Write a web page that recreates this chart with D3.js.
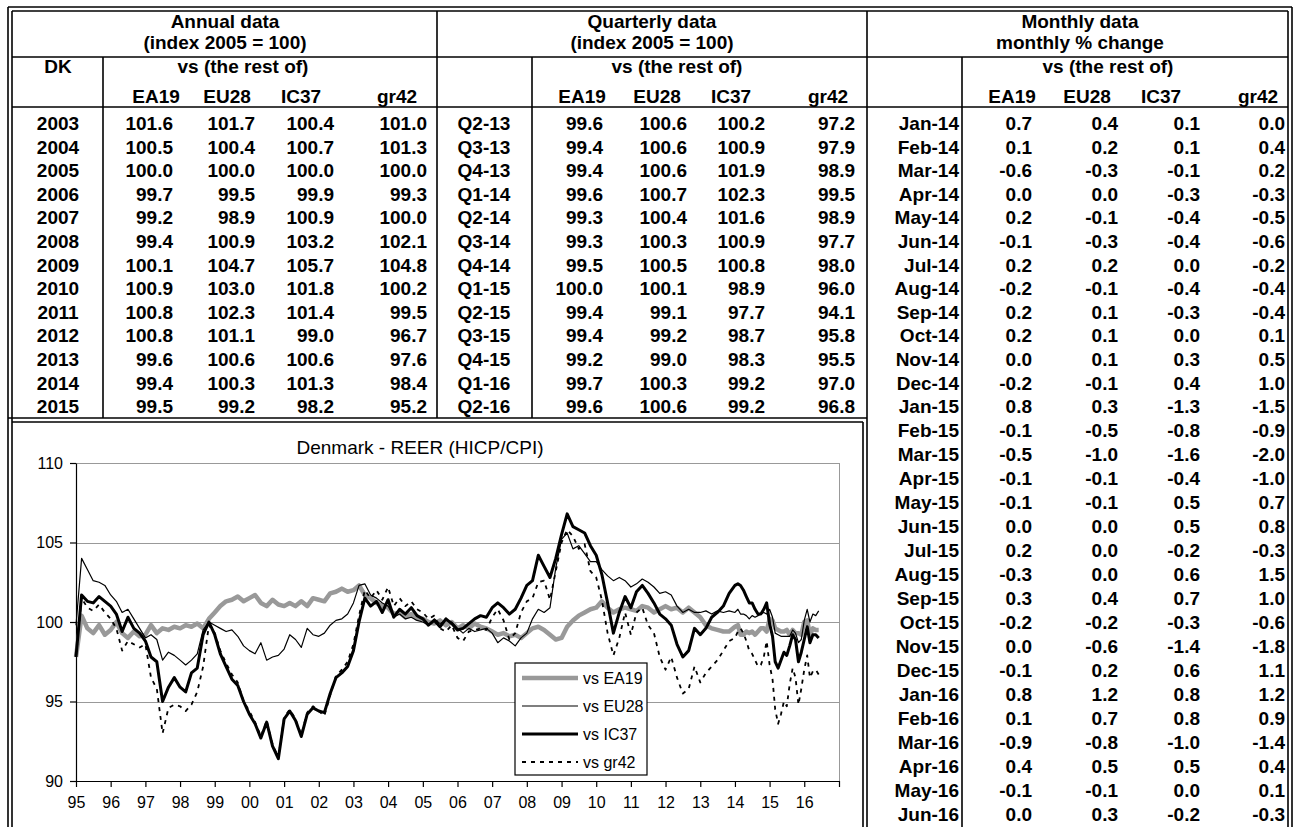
<!DOCTYPE html>
<head>
<meta charset="utf-8">
<style>
body { margin: 0; background: #fff; }
svg { display: block; font-family: Arial, "Liberation Sans", sans-serif; }
.cell { font-size: 19px; font-weight: bold; fill: #000; }
.rule { stroke: #000; stroke-width: 1.6px; fill: none; }
.chart text { font-size: 16px; fill: #000; }
.chart .title { font-size: 19px; }
.grid { stroke: #999; stroke-width: 1px; shape-rendering: crispEdges; }
.axis path, .axis line { stroke: #000; stroke-width: 1.2px; }
.series { fill: none; stroke-linejoin: round; }
</style>
<script src="https://d3js.org/d3.v7.min.js"></script>
</head>
<body>
<svg id="sheet" width="1303" height="827"></svg>
<script>

// ---- table data ----
var annualYears = ["2003","2004","2005","2006","2007","2008","2009","2010","2011","2012","2013","2014","2015"];
var annEA19 = [101.6,100.5,100.0,99.7,99.2,99.4,100.1,100.9,100.8,100.8,99.6,99.4,99.5];
var annEU28 = [101.7,100.4,100.0,99.5,98.9,100.9,104.7,103.0,102.3,101.1,100.6,100.3,99.2];
var annIC37 = [100.4,100.7,100.0,99.9,100.9,103.2,105.7,101.8,101.4,99.0,100.6,101.3,98.2];
var annGr42 = [101.0,101.3,100.0,99.3,100.0,102.1,104.8,100.2,99.5,96.7,97.6,98.4,95.2];

var quarterLabels = ["Q2-13","Q3-13","Q4-13","Q1-14","Q2-14","Q3-14","Q4-14","Q1-15","Q2-15","Q3-15","Q4-15","Q1-16","Q2-16"];
var qEA19 = [99.6,99.4,99.4,99.6,99.3,99.3,99.5,100.0,99.4,99.4,99.2,99.7,99.6];
var qEU28 = [100.6,100.6,100.6,100.7,100.4,100.3,100.5,100.1,99.1,99.2,99.0,100.3,100.6];
var qIC37 = [100.2,100.9,101.9,102.3,101.6,100.9,100.8,98.9,97.7,98.7,98.3,99.2,99.2];
var qGr42 = [97.2,97.9,98.9,99.5,98.9,97.7,98.0,96.0,94.1,95.8,95.5,97.0,96.8];

var monthLabels = ["Jan-14","Feb-14","Mar-14","Apr-14","May-14","Jun-14","Jul-14","Aug-14","Sep-14","Oct-14","Nov-14","Dec-14",
  "Jan-15","Feb-15","Mar-15","Apr-15","May-15","Jun-15","Jul-15","Aug-15","Sep-15","Oct-15","Nov-15","Dec-15",
  "Jan-16","Feb-16","Mar-16","Apr-16","May-16","Jun-16"];
var mEA19 = [0.7,0.1,-0.6,0.0,0.2,-0.1,0.2,-0.2,0.2,0.2,0.0,-0.2,0.8,-0.1,-0.5,-0.1,-0.1,0.0,0.2,-0.3,0.3,-0.2,0.0,-0.1,0.8,0.1,-0.9,0.4,-0.1,0.0];
var mEU28 = [0.4,0.2,-0.3,0.0,-0.1,-0.3,0.2,-0.1,0.1,0.1,0.1,-0.1,0.3,-0.5,-1.0,-0.1,-0.1,0.0,0.0,0.0,0.4,-0.2,-0.6,0.2,1.2,0.7,-0.8,0.5,-0.1,0.3];
var mIC37 = [0.1,0.1,-0.1,-0.3,-0.4,-0.4,0.0,-0.4,-0.3,0.0,0.3,0.4,-1.3,-0.8,-1.6,-0.4,0.5,0.5,-0.2,0.6,0.7,-0.3,-1.4,0.6,0.8,0.8,-1.0,0.5,0.0,-0.2];
var mGr42 = [0.0,0.4,0.2,-0.3,-0.5,-0.6,-0.2,-0.4,-0.4,0.1,0.5,1.0,-1.5,-0.9,-2.0,-1.0,0.7,0.8,-0.3,1.5,1.0,-0.6,-1.8,1.1,1.2,0.9,-1.4,0.4,0.1,-0.3];

var columnNames = ["EA19","EU28","IC37","gr42"];

// ---- chart data (every 2nd month to 2013, monthly after) ----
var chartMonths = [
  "1995-01","1995-03","1995-05","1995-07","1995-09","1995-11",
  "1996-01","1996-03","1996-05","1996-07","1996-09","1996-11",
  "1997-01","1997-03","1997-05","1997-07","1997-09","1997-11",
  "1998-01","1998-03","1998-05","1998-07","1998-09","1998-11",
  "1999-01","1999-03","1999-05","1999-07","1999-09","1999-11",
  "2000-01","2000-03","2000-05","2000-07","2000-09","2000-11",
  "2001-01","2001-03","2001-05","2001-07","2001-09","2001-11",
  "2002-01","2002-03","2002-05","2002-07","2002-09","2002-11",
  "2003-01","2003-03","2003-05","2003-07","2003-09","2003-11",
  "2004-01","2004-03","2004-05","2004-07","2004-09","2004-11",
  "2005-01","2005-03","2005-05","2005-07","2005-09","2005-11",
  "2006-01","2006-03","2006-05","2006-07","2006-09","2006-11",
  "2007-01","2007-03","2007-05","2007-07","2007-09","2007-11",
  "2008-01","2008-03","2008-05","2008-07","2008-09","2008-11",
  "2009-01","2009-03","2009-05","2009-07","2009-09","2009-11",
  "2010-01","2010-03","2010-05","2010-07","2010-09","2010-11",
  "2011-01","2011-03","2011-05","2011-07","2011-09","2011-11",
  "2012-01","2012-03","2012-05","2012-07","2012-09","2012-11",
  "2013-01","2013-03","2013-05","2013-07","2013-09","2013-11",
  "2014-01","2014-02","2014-03","2014-04","2014-05","2014-06","2014-07","2014-08","2014-09","2014-10","2014-11","2014-12",
  "2015-01","2015-02","2015-03","2015-04","2015-05","2015-06","2015-07","2015-08","2015-09","2015-10","2015-11","2015-12",
  "2016-01","2016-02","2016-03","2016-04","2016-05","2016-06"
];
var chartEA19 = [
  97.8,100.4,99.6,99.3,99.8,99.2, 99.5,100.0,99.3,99.0,99.4,99.1, 99.2,99.8,99.3,99.6,99.5,99.7,
  99.6,99.8,99.7,99.9,99.6,100.2, 100.6,101.0,101.3,101.4,101.6,101.3, 101.5,101.7,101.2,101.0,101.4,101.1,
  101.0,101.2,101.0,101.3,101.0,101.5, 101.4,101.3,101.8,101.9,102.1,101.9, 102.0,102.3,101.7,101.5,101.2,101.0,
  100.9,100.5,100.6,100.3,100.5,100.2, 100.2,100.0,99.9,100.1,99.8,100.0, 99.6,99.8,99.6,99.9,99.7,99.6,
  99.4,99.2,99.3,99.1,99.2,99.0, 99.3,99.6,99.7,99.5,99.2,98.9, 99.0,99.7,100.1,100.4,100.6,100.8,
  100.9,101.3,100.9,100.6,100.8,100.9, 100.8,100.7,101.0,100.9,100.6,100.8, 101.0,100.8,100.9,100.6,100.9,100.6,
  100.3,99.8,99.6,99.5,99.4,99.4,
  99.7,99.8,99.2,99.2,99.4,99.3,99.4,99.2,99.4,99.6,99.6,99.4,
  100.2,100.1,99.6,99.5,99.4,99.4,99.5,99.2,99.5,99.3,99.3,99.2,
  100.0,100.1,99.2,99.6,99.5,99.5
];
var chartEU28 = [
  99.8,104.0,103.3,102.6,102.5,102.3, 101.7,101.3,100.6,100.8,100.2,99.6, 99.0,99.2,98.9,97.6,98.1,97.9,
  97.6,97.3,97.6,98.0,99.5,100.0, 99.8,99.6,99.4,99.5,99.1,98.5, 98.2,98.0,98.7,97.6,97.8,97.9,
  98.3,99.2,98.9,98.4,99.6,99.2, 99.1,99.3,99.8,100.1,100.2,100.5, 101.2,102.3,102.4,101.7,101.5,101.2,
  101.0,100.3,100.5,100.2,100.3,100.1, 100.0,99.8,100.2,99.9,100.1,100.0, 99.6,99.3,99.6,99.4,99.5,99.6,
  99.3,98.7,99.0,98.8,98.5,99.0, 99.3,100.2,100.8,100.6,100.9,103.4, 105.2,105.6,104.6,104.8,104.3,103.8,
  103.8,103.3,102.9,102.6,102.8,102.6, 102.2,102.4,102.7,102.5,102.2,101.8, 101.9,101.7,101.0,100.6,100.8,100.6,
  100.6,100.7,100.5,100.7,100.6,100.7,
  100.6,100.8,100.5,100.5,100.4,100.2,100.4,100.3,100.4,100.5,100.6,100.5,
  100.8,100.3,99.3,99.2,99.1,99.1,99.1,99.1,99.5,99.3,98.7,98.9,
  100.1,100.8,100.0,100.5,100.4,100.7
];
var chartIC37 = [
  97.8,101.7,101.3,101.2,101.6,101.3, 101.0,100.5,99.4,100.3,99.6,99.3, 98.8,97.8,97.5,95.0,95.9,96.5,
  95.9,95.6,96.8,97.1,99.2,100.0, 99.2,98.0,97.2,96.4,96.0,95.0, 94.2,93.6,92.7,93.7,92.2,91.4,
  93.9,94.4,93.8,92.8,94.2,94.6, 94.4,94.3,95.5,96.5,96.8,97.2, 98.2,100.0,101.5,101.0,101.3,100.6,
  101.4,100.3,100.8,100.5,100.9,100.4, 100.2,99.8,100.1,99.7,100.2,99.9, 99.5,99.6,99.9,100.2,100.4,100.3,
  100.9,101.2,100.9,100.5,100.8,101.5, 102.3,102.6,104.2,103.5,102.8,104.0, 105.5,106.8,106.0,105.8,105.6,104.8,
  104.2,103.0,101.2,99.3,100.6,101.6, 100.9,101.9,102.3,101.8,101.2,100.5, 100.2,99.8,98.6,97.8,98.2,99.6,
  99.2,99.6,100.3,100.6,101.0,101.8,
  102.3,102.4,102.3,102.0,101.6,101.2,101.2,100.8,100.5,100.5,100.8,101.2,
  99.9,99.1,97.5,97.1,97.6,98.1,97.9,98.5,99.2,98.9,97.5,98.1,
  98.9,99.7,98.7,99.2,99.2,99.0
];
var chartGr42 = [
  97.8,101.5,100.9,100.7,101.1,100.6, 100.2,99.6,98.2,98.8,98.6,98.4, 98.6,96.5,95.8,93.0,94.6,94.8,
  94.7,94.4,94.8,95.6,97.2,99.8, 99.3,98.2,97.4,96.7,96.2,95.0, 94.4,93.7,92.8,93.8,92.3,91.5,
  94.0,94.5,93.9,92.9,94.3,94.7, 94.4,94.1,95.4,96.6,97.0,97.5, 98.6,100.4,102.0,101.5,102.0,101.4,
  102.2,101.0,101.5,101.0,101.3,100.8, 100.6,100.2,100.4,99.6,99.4,99.8, 99.0,98.8,99.4,99.5,99.6,99.5,
  100.3,100.8,100.1,98.9,99.3,100.6, 101.3,101.5,102.5,102.6,101.4,103.2, 105.0,105.8,105.4,104.6,104.9,103.2,
  102.8,101.4,99.3,97.9,99.0,100.6, 99.2,100.6,100.9,99.8,99.3,97.8, 97.0,97.8,96.5,95.5,95.8,97.2,
  96.2,96.8,97.2,97.6,98.2,98.8,
  99.0,99.4,99.6,99.3,98.8,98.2,98.0,97.6,97.2,97.3,97.8,98.8,
  97.3,96.4,94.5,93.6,94.2,95.0,94.7,96.1,97.1,96.5,94.8,95.8,
  97.0,97.9,96.5,96.9,97.0,96.7
];
var yTicks = [90, 95, 100, 105, 110];
var xTickYears = [1995,1996,1997,1998,1999,2000,2001,2002,2003,2004,2005,2006,2007,2008,2009,2010,2011,2012,2013,2014,2015,2016,2017];
var xTickLabels = ["95","96","97","98","99","00","01","02","03","04","05","06","07","08","09","10","11","12","13","14","15","16",""];
var legendNames = ["vs EA19","vs EU28","vs IC37","vs gr42"];

var svg = d3.select("#sheet");

/**
 * Put one bold table cell text.
 */
function cell(x, y, str, anchor) {
  svg.append("text").attr("class", "cell")
    .attr("x", x).attr("y", y)
    .attr("text-anchor", anchor || "middle")
    .text(str);
}

function rule(x1, y1, x2, y2) {
  svg.append("line").attr("class", "rule")
    .attr("x1", x1).attr("y1", y1).attr("x2", x2).attr("y2", y2);
}

/**
 * Draw the grid lines of the sheet.
 */
function drawRules() {
  // outer double border
  rule(8, 7, 1292, 7);
  rule(12, 11, 1288, 11);
  rule(8, 7, 8, 827);
  rule(12, 11, 12, 827);
  rule(1292, 7, 1292, 827);
  rule(1288, 11, 1288, 827);
  // header lines
  rule(12, 57, 1288, 57);
  rule(12, 107, 1288, 107);
  // section dividers
  rule(437, 11, 437, 418);
  rule(867, 11, 867, 827);
  rule(103, 57, 103, 418);
  rule(532, 57, 532, 418);
  rule(962, 57, 962, 827);
  // chart box double line
  rule(8, 418, 867, 418);
  rule(12, 422, 863, 422);
  rule(863, 422, 863, 827);
}

// rows above the chart are a little lower than the rows beside it
function rowY(i) {
  return i <= 12 ? 130 + i * 23.6 : 413 + (i - 12) * 24.0;
}

function fmt(v) { return v.toFixed(1); }

function drawSection(labels, cols, labelX, labelAnchor, valueX) {
  labels.forEach(function(lab, i) {
    var yy = rowY(i);
    cell(labelX, yy, lab, labelAnchor);
    cols.forEach(function(col, j) {
      cell(valueX[j], yy, fmt(col[i]), "end");
    });
  });
}

/**
 * Draw the three tables.
 */
function drawTables() {
  cell(225, 28, "Annual data");
  cell(225, 49, "(index 2005 = 100)");
  cell(652, 28, "Quarterly data");
  cell(652, 49, "(index 2005 = 100)");
  cell(1080, 28, "Monthly data");
  cell(1080, 49, "monthly % change");
  cell(58, 73, "DK");
  cell(243, 73, "vs (the rest of)");
  cell(677, 73, "vs (the rest of)");
  cell(1108, 73, "vs (the rest of)");
  var heads = [[156, 227, 301, 397], [582, 657, 731, 828], [1012, 1087, 1161, 1258]];
  heads.forEach(function(xs) {
    xs.forEach(function(xx, j) { cell(xx, 103, columnNames[j]); });
  });
  drawSection(annualYears, [annEA19, annEU28, annIC37, annGr42], 58, "middle", [173, 255, 334, 427]);
  drawSection(quarterLabels, [qEA19, qEU28, qIC37, qGr42], 484, "middle", [603, 687, 765, 855]);
  drawSection(monthLabels, [mEA19, mEU28, mIC37, mGr42], 959, "end", [1032, 1118, 1200, 1285]);
}

/**
 * Draw the REER line chart inside its box.
 */
function drawChart() {
  var parse = d3.timeParse("%Y-%m");
  var left = 76, right = 839, top = 463, bottom = 781;
  var x = d3.scaleTime().domain([new Date(1995, 0, 1), new Date(2017, 0, 1)]).range([left, right]);
  var y = d3.scaleLinear().domain([90, 110]).range([bottom, top]);
  var g = svg.append("g").attr("class", "chart");

  g.append("text").attr("class", "title")
    .attr("x", 420).attr("y", 454).attr("text-anchor", "middle")
    .text("Denmark - REER (HICP/CPI)");

  // grid lines and plot frame
  g.selectAll(".grid").data(yTicks.slice(1)).enter().append("line")
    .attr("class", "grid")
    .attr("x1", left).attr("x2", right)
    .attr("y1", function(d) { return Math.round(y(d)) + 0.5; })
    .attr("y2", function(d) { return Math.round(y(d)) + 0.5; });
  g.append("line").attr("class", "grid")
    .attr("x1", right + 0.5).attr("x2", right + 0.5).attr("y1", top).attr("y2", bottom);

  // axes
  g.append("g").attr("class", "axis")
    .attr("transform", "translate(" + left + ",0)")
    .call(d3.axisLeft(y).tickValues(yTicks).tickSize(6).tickSizeOuter(0).tickPadding(7))
    .call(function(a) { a.selectAll("text").attr("font-size", 16).attr("font-family", null); });
  g.append("g").attr("class", "axis")
    .attr("transform", "translate(0," + bottom + ")")
    .call(d3.axisBottom(x)
      .tickValues(xTickYears.map(function(yr) { return new Date(yr, 0, 1); }))
      .tickFormat(function(d, i) { return xTickLabels[i]; })
      .tickSize(6).tickSizeOuter(0).tickPadding(10))
    .call(function(a) { a.selectAll("text").attr("font-size", 16).attr("font-family", null); });

  var dates = chartMonths.map(parse);
  var line = d3.line()
    .x(function(d) { return x(d.date); })
    .y(function(d) { return y(d.v); });
  var series = [
    {values: chartEA19, stroke: "#999", width: 4.5, dash: null},
    {values: chartEU28, stroke: "#000", width: 1.2, dash: null},
    {values: chartIC37, stroke: "#000", width: 3, dash: null},
    {values: chartGr42, stroke: "#000", width: 1.8, dash: "4,5"}
  ];
  series.forEach(function(s) {
    var pts = s.values.map(function(v, i) { return {date: dates[i], v: v}; });
    g.append("path").datum(pts)
      .attr("class", "series")
      .attr("stroke", s.stroke)
      .attr("stroke-width", s.width)
      .attr("stroke-dasharray", s.dash)
      .attr("d", line);
  });

  // legend
  var lg = g.append("g").attr("transform", "translate(515,663)");
  lg.append("rect").attr("width", 132).attr("height", 112)
    .attr("fill", "#fff").attr("stroke", "#000").attr("stroke-width", 1.2);
  series.forEach(function(s, i) {
    var yy = 15 + i * 28;
    lg.append("line").attr("x1", 7).attr("x2", 63).attr("y1", yy).attr("y2", yy)
      .attr("stroke", s.stroke).attr("stroke-width", s.width)
      .attr("stroke-dasharray", s.dash);
    lg.append("text").attr("x", 68).attr("y", yy + 6).text(legendNames[i]);
  });
}

drawTables();
drawChart();
drawRules();

</script>
</body>
